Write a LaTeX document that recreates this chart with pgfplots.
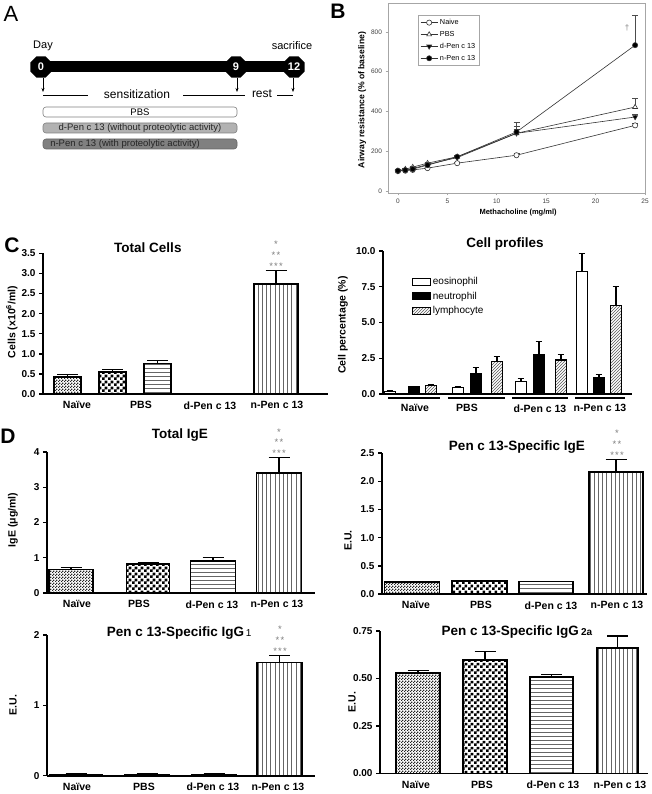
\documentclass[border=0pt]{standalone}
\usepackage{fontspec}
\setmainfont{Liberation Sans}
\usepackage{pgfplots}
\pgfplotsset{compat=1.18}
\usetikzlibrary{patterns,shapes.geometric,arrows.meta}

\pgfdeclarepatternformonly{finechecker}{\pgfpointorigin}{\pgfqpoint{2.6pt}{2.6pt}}{\pgfqpoint{2.6pt}{2.6pt}}{%
  \pgfpathrectangle{\pgfpointorigin}{\pgfqpoint{1.3pt}{1.3pt}}%
  \pgfpathrectangle{\pgfqpoint{1.3pt}{1.3pt}}{\pgfqpoint{1.3pt}{1.3pt}}%
  \pgfusepath{fill}}
\pgfdeclarepatternformonly{bigchecker}{\pgfpointorigin}{\pgfqpoint{6pt}{6pt}}{\pgfqpoint{6pt}{6pt}}{%
  \pgfpathrectangle{\pgfpointorigin}{\pgfqpoint{3pt}{3pt}}%
  \pgfpathrectangle{\pgfqpoint{3pt}{3pt}}{\pgfqpoint{3pt}{3pt}}%
  \pgfusepath{fill}}
\pgfdeclarepatternformonly{hlines}{\pgfqpoint{-1pt}{-1pt}}{\pgfqpoint{5pt}{5pt}}{\pgfqpoint{4pt}{4pt}}{%
  \pgfsetlinewidth{0.7pt}%
  \pgfpathmoveto{\pgfqpoint{-1pt}{2pt}}\pgfpathlineto{\pgfqpoint{5pt}{2pt}}%
  \pgfusepath{stroke}}
\pgfdeclarepatternformonly{vlines}{\pgfqpoint{-1pt}{-1pt}}{\pgfqpoint{5pt}{5pt}}{\pgfqpoint{4.2pt}{4pt}}{%
  \pgfsetlinewidth{0.7pt}%
  \pgfpathmoveto{\pgfqpoint{2pt}{-1pt}}\pgfpathlineto{\pgfqpoint{2pt}{5pt}}%
  \pgfusepath{stroke}}
\pgfdeclarepatternformonly{dlines}{\pgfqpoint{-1pt}{-1pt}}{\pgfqpoint{4pt}{4pt}}{\pgfqpoint{3pt}{3pt}}{%
  \pgfsetlinewidth{0.6pt}%
  \pgfpathmoveto{\pgfqpoint{0pt}{0pt}}\pgfpathlineto{\pgfqpoint{3.1pt}{3.1pt}}%
  \pgfusepath{stroke}}

\pgfplotsset{
  gp/.style={
    scale only axis, clip=false, anchor=south west,
    axis lines*=left, axis line style={line width=1.6pt, black},
    tick align=outside, major tick length=4pt,
    ytick style={line width=1.4pt, black},
    xtick style={draw=none},
    /pgf/number format/assume math mode=true,
    yticklabel style={font=\bfseries\fontsize{10}{12}\selectfont},
    xticklabel style={font=\bfseries\fontsize{10.5}{12}\selectfont},
    every axis title/.style={anchor=center, font=\bfseries\fontsize{13.5}{15}\selectfont},
    every axis y label/.style={rotate=90, anchor=center, font=\bfseries\fontsize{10.5}{12}\selectfont},
  },
  gpbar/.style={ybar, bar shift=0pt, draw=black, line width=1.6pt,
    error bars/y dir=plus, error bars/y explicit,
    error bars/error bar style={line width=1.4pt, black},
    error bars/error mark options={rotate=90, black, line width=1.4pt, mark size=10.5pt}},
}
\tikzset{stars/.style={anchor=south, align=center, text=gray, font=\fontsize{9.5}{10.7}\selectfont, inner sep=0pt, yshift=1pt}}
\newcommand{\threestars}{*\\*\kern1.2pt*\\*\kern1.2pt*\kern1.2pt*}

\begin{document}
\begin{tikzpicture}
\fill[white] (0pt,0pt) rectangle (651pt,-794pt);
\path[use as bounding box] (0pt,0pt) rectangle (651pt,-794pt);
\begin{scope}[x=1pt,y=-1pt]
  % ---- Panel A ----
  \node[font=\fontsize{22}{22}\selectfont] at (11,14) {A};
  \node[font=\fontsize{11}{12}\selectfont] at (43,46) {Day};
  \node[font=\fontsize{11}{12}\selectfont] at (292,46) {sacrifice};
  \draw[line width=11pt] (41,67) -- (294,67);
  \foreach \x/\t in {41/0,236/9,294/12}
    \node[regular polygon, regular polygon sides=8, minimum size=23pt, fill=black, text=white,
          font=\bfseries\fontsize{11}{12}\selectfont, inner sep=0pt] at (\x,67) {\t};
  \foreach \x in {43,237,293}
    \draw[-{Stealth[length=4pt,width=3pt]}, line width=0.7pt] (\x,78) -- (\x,92);
  \draw[line width=0.6pt] (43,95)--(88,95) (183,95)--(245,95) (277,95)--(293,95);
  \node[font=\fontsize{12}{13}\selectfont] at (137,94) {sensitization};
  \node[font=\fontsize{12}{13}\selectfont] at (262,94) {rest};
  \draw[rounded corners=3pt, draw=gray, fill=white, line width=0.6pt] (43,107) rectangle (237,117);
  \node[font=\fontsize{9.5}{10}\selectfont] at (140,112) {PBS};
  \draw[rounded corners=3pt, draw=gray, fill=gray!60, line width=0.6pt] (43,123) rectangle (237,133);
  \node[font=\fontsize{9.5}{10}\selectfont, text=black!85] at (140,128) {d-Pen c 13 (without proteolytic activity)};
  \draw[rounded corners=3pt, draw=gray!80!black, fill=gray, line width=0.6pt] (43,139) rectangle (237,149);
  \node[font=\fontsize{9.5}{10}\selectfont, text=black!85] at (125,144) {n-Pen c 13 (with proteolytic activity)};
  % ---- panel letters ----
  \node[font=\bfseries\fontsize{21}{21}\selectfont] at (338,11) {B};
  \node[font=\bfseries\fontsize{21}{21}\selectfont] at (12,245) {C};
  \node[font=\bfseries\fontsize{21}{21}\selectfont] at (8,436) {D};
  % ---- cell profile group lines ----
  \draw[line width=1.2pt] (388,398)--(440,398) (448,398)--(505,398) (512,398)--(568,398) (575,398)--(625,398);
\end{scope}

% ---- Panel B ----
\begin{axis}[scale only axis, anchor=south west, at={(388pt,-193pt)}, width=257pt, height=190pt,
  xmin=-1, xmax=25, ymin=-10, ymax=945,
  xtick={0,5,...,25}, ytick={0,200,...,800},
  axis line style={draw=gray!70, line width=0.7pt},
  tick align=outside, xtick pos=left, ytick pos=left, major tick length=2.5pt,
  tick style={gray!70, line width=0.5pt},
  /pgf/number format/assume math mode=true,
  ticklabel style={font=\fontsize{6.5}{7}\selectfont, text=black!75},
  xlabel={Methacholine (mg/ml)}, ylabel={Airway resistance (\% of baseline)},
  xlabel style={at={(0.506,-0.105)}, anchor=center, font=\bfseries\fontsize{7.5}{9}\selectfont},
  ylabel style={at={(-0.101,0.489)}, anchor=center, font=\bfseries\fontsize{8.6}{10}\selectfont},
  legend style={at={(0.117,0.937)}, anchor=north west, draw=gray!70, line width=0.5pt,
    font=\fontsize{7.3}{8.5}\selectfont, inner sep=2pt, row sep=1.2pt},
  legend cell align=left, clip=false]
\addplot[black!80, line width=0.6pt, mark=*, mark size=2.6pt, mark options={fill=white, line width=0.6pt},
  error bars/y dir=plus, error bars/y explicit,
  error bars/error bar style={black!70, line width=0.6pt},
  error bars/error mark options={rotate=90, black!70, line width=0.6pt, mark size=3pt}]
  coordinates {(0,100)+-(0,3) (0.75,102)+-(0,3) (1.5,106)+-(0,4) (3,115)+-(0,5) (6,140)+-(0,6) (12,180)+-(0,10) (24,330)+-(0,8)};
\addlegendentry{Naive}
\addplot[black!80, line width=0.6pt, mark=triangle*, mark size=2.8pt, mark options={fill=white, line width=0.6pt},
  error bars/y dir=plus, error bars/y explicit,
  error bars/error bar style={black!70, line width=0.6pt},
  error bars/error mark options={rotate=90, black!70, line width=0.6pt, mark size=3pt}]
  coordinates {(0,102)+-(0,3) (0.75,110)+-(0,4) (1.5,120)+-(0,6) (3,140)+-(0,6) (6,172)+-(0,8) (12,290)+-(0,35) (24,422)+-(0,45)};
\addlegendentry{PBS}
\addplot[black!80, line width=0.6pt, mark=triangle*, mark size=2.8pt, mark options={fill=black, rotate=180},
  error bars/y dir=plus, error bars/y explicit,
  error bars/error bar style={black!70, line width=0.6pt},
  error bars/error mark options={rotate=90, black!70, line width=0.6pt, mark size=3pt}]
  coordinates {(0,101)+-(0,3) (0.75,106)+-(0,3) (1.5,113)+-(0,4) (3,133)+-(0,5) (6,168)+-(0,8) (12,290)+-(0,20) (24,372)+-(0,15)};
\addlegendentry{d-Pen c 13}
\addplot[black!80, line width=0.6pt, mark=*, mark size=2.6pt, mark options={fill=black},
  error bars/y dir=plus, error bars/y explicit,
  error bars/error bar style={black!70, line width=0.6pt},
  error bars/error mark options={rotate=90, black!70, line width=0.6pt, mark size=3pt}]
  coordinates {(0,102)+-(0,3) (0.75,105)+-(0,3) (1.5,110)+-(0,4) (3,130)+-(0,5) (6,172)+-(0,8) (12,297)+-(0,48) (24,733)+-(0,152)};
\addlegendentry{n-Pen c 13}
\node[text=gray, font=\fontsize{8}{8}\selectfont] at (axis cs:23.2,820) {\textdagger};
\end{axis}

% ---- Panel C left: Total Cells ----
\begin{axis}[gp, at={(43pt,-394pt)}, width=285pt, height=140.7pt,
  xmin=43, xmax=328, ymin=0, ymax=3.5, ytick={0,0.5,1,1.5,2,2.5,3,3.5},
  yticklabel style={/pgf/number format/.cd, fixed, fixed zerofill, precision=1},
  xtick={77,141,210,277}, xticklabels={Naïve,PBS,d-Pen c 13,n-Pen c 13},
  title={Total Cells}, title style={at={(0.368,1.038)}},
  ylabel={Cells (x10\textsuperscript{6}/ml)}, ylabel style={at={(-0.109,0.512)}}]
\addplot[gpbar, bar width=27, pattern=finechecker, pattern color=black!85] coordinates {(67.5,0.43) +- (0,0.06)};
\addplot[gpbar, bar width=27, pattern=bigchecker, pattern color=black] coordinates {(112.5,0.54) +- (0,0.07)};
\addplot[gpbar, bar width=27, pattern=hlines, pattern color=black!60] coordinates {(157.5,0.76) +- (0,0.07)};
\addplot[gpbar, bar width=44, pattern=vlines, pattern color=black!60] coordinates {(276,2.74) +- (0,0.33)};
\node[stars] at (axis cs:276,3.07) {\threestars};
\end{axis}

% ---- Panel C right: Cell profiles ----
\begin{axis}[gp, at={(383pt,-394pt)}, width=249pt, height=143pt,
  xmin=383, xmax=632, ymin=0, ymax=10, ytick={0,2.5,5,7.5,10},
  yticklabel style={/pgf/number format/.cd, fixed, fixed zerofill, precision=1},
  xtick={415,467,540,600}, xticklabels={Naïve,PBS,d-Pen c 13,n-Pen c 13},
  xticklabel style={yshift=-3pt},
  title={Cell profiles}, title style={at={(0.49,1.049)}},
  ylabel={Cell percentage (\%)}, ylabel style={at={(-0.161,0.483)}},
  legend style={at={(0.116,0.832)}, anchor=north west, draw=none, fill=none,
    font=\fontsize{10}{12}\selectfont, row sep=2pt, inner sep=0pt},
  legend cell align=left]
\addplot[gpbar, line width=1.1pt, bar width=11, fill=white,
  error bars/error bar style={line width=1.2pt}, error bars/error mark options={rotate=90, line width=1.2pt, mark size=3.3pt},
  legend image code/.code={\draw[line width=0.8pt, fill=white] (0pt,-3.5pt) rectangle (18pt,3.5pt);}]
  coordinates {(390,0.2)+-(0,0.05) (458,0.47)+-(0,0.07) (521,0.88)+-(0,0.2) (582,8.55)+-(0,1.3)};
\addlegendentry{eosinophil}
\addplot[gpbar, line width=1.1pt, bar width=11, fill=black,
  error bars/error bar style={line width=1.2pt}, error bars/error mark options={rotate=90, line width=1.2pt, mark size=3.3pt},
  legend image code/.code={\draw[line width=0.8pt, fill=black] (0pt,-3.5pt) rectangle (18pt,3.5pt);}]
  coordinates {(414,0.5)+-(0,0.05) (476,1.45)+-(0,0.4) (539,2.78)+-(0,0.9) (599,1.14)+-(0,0.2)};
\addlegendentry{neutrophil}
\addplot[gpbar, line width=1.1pt, bar width=11, pattern=dlines, pattern color=black!65,
  error bars/error bar style={line width=1.2pt}, error bars/error mark options={rotate=90, line width=1.2pt, mark size=3.3pt},
  legend image code/.code={\draw[line width=0.8pt, pattern=dlines, pattern color=black!65] (0pt,-3.5pt) rectangle (18pt,3.5pt);}]
  coordinates {(431,0.58)+-(0,0.07) (497,2.3)+-(0,0.3) (561,2.38)+-(0,0.37) (616,6.2)+-(0,1.3)};
\addlegendentry{lymphocyte}
\end{axis}

% ---- Panel D: Total IgE ----
\begin{axis}[gp, at={(47pt,-593pt)}, width=268pt, height=141pt,
  xmin=47, xmax=315, ymin=0, ymax=4, ytick={0,1,2,3,4},
  xtick={77,139,212,277}, xticklabels={Naïve,PBS,d-Pen c 13,n-Pen c 13},
  title={Total IgE}, title style={at={(0.496,1.12)}},
  ylabel={IgE (μg/ml)}, ylabel style={at={(-0.127,0.518)}}]
\addplot[gpbar, bar width=44, pattern=finechecker, pattern color=black!85] coordinates {(71,0.67) +- (0,0.06)};
\addplot[gpbar, bar width=43, pattern=bigchecker, pattern color=black] coordinates {(148,0.82) +- (0,0.05)};
\addplot[gpbar, bar width=45, pattern=hlines, pattern color=black!60] coordinates {(213,0.91) +- (0,0.09)};
\addplot[gpbar, bar width=45, pattern=vlines, pattern color=black!60] coordinates {(279,3.41) +- (0,0.43)};
\node[stars] at (axis cs:279,3.84) {\threestars};
\end{axis}

% ---- Panel D: Pen c 13-Specific IgE ----
\begin{axis}[gp, at={(382pt,-594pt)}, width=265pt, height=141pt,
  xmin=382, xmax=647, ymin=0, ymax=2.5, ytick={0,0.5,1,1.5,2,2.5},
  yticklabel style={/pgf/number format/.cd, fixed, fixed zerofill, precision=1},
  xtick={416,481,551,617}, xticklabels={Naïve,PBS,d-Pen c 13,n-Pen c 13},
  title={Pen c 13-Specific IgE}, title style={at={(0.509,1.045)}},
  ylabel={E.U.}, ylabel style={at={(-0.128,0.378)}}]
\addplot[gpbar, bar width=55, pattern=finechecker, pattern color=black!85] coordinates {(412,0.21) +- (0,0.005)};
\addplot[gpbar, bar width=55, pattern=bigchecker, pattern color=black] coordinates {(479.5,0.23) +- (0,0.005)};
\addplot[gpbar, bar width=54, pattern=hlines, pattern color=black!60] coordinates {(546,0.22) +- (0,0.005)};
\addplot[gpbar, bar width=54, pattern=vlines, pattern color=black!60] coordinates {(616,2.16) +- (0,0.23)};
\node[stars] at (axis cs:617,2.39) {\threestars};
\end{axis}

% ---- Panel D: Pen c 13-Specific IgG1 ----
\begin{axis}[gp, at={(47pt,-775.7pt)}, width=268pt, height=140.7pt,
  xmin=47, xmax=315, ymin=0, ymax=2, ytick={0,1,2},
  xtick={77,144,213,278}, xticklabels={Naïve,PBS,d-Pen c 13,n-Pen c 13},
  title={Pen c 13-Specific IgG{\mdseries\fontsize{10}{10}\selectfont\,1}}, title style={at={(0.493,1.014)}},
  ylabel={E.U.}, ylabel style={at={(-0.127,0.502)}}]
\addplot[gpbar, bar width=52, pattern=finechecker, pattern color=black!85] coordinates {(76,0.02) +- (0,0.002)};
\addplot[gpbar, bar width=44, pattern=bigchecker, pattern color=black] coordinates {(147,0.02) +- (0,0.002)};
\addplot[gpbar, bar width=44, pattern=hlines, pattern color=black!60] coordinates {(214,0.02) +- (0,0.002)};
\addplot[gpbar, bar width=45, pattern=vlines, pattern color=black!60] coordinates {(279.5,1.61) +- (0,0.10)};
\node[stars] at (axis cs:280,1.71) {\threestars};
\end{axis}

% ---- Panel D: Pen c 13-Specific IgG2a ----
\begin{axis}[gp, at={(380pt,-773.3pt)}, width=268pt, height=142.3pt,
  xmin=380, xmax=648, ymin=0, ymax=0.75, ytick={0,0.25,0.5,0.75},
  yticklabel style={/pgf/number format/.cd, fixed, fixed zerofill, precision=2},
  xtick={416,482,553,620}, xticklabels={Naïve,PBS,d-Pen c 13,n-Pen c 13},
  title={Pen c 13-Specific IgG\,{\fontsize{10}{10}\selectfont 2a}}, title style={at={(0.511,0.993)}},
  ylabel={E.U.}, ylabel style={at={(-0.104,0.501)}}]
\addplot[gpbar, bar width=44, pattern=finechecker, pattern color=black!85] coordinates {(418,0.53) +- (0,0.013)};
\addplot[gpbar, bar width=44, pattern=bigchecker, pattern color=black] coordinates {(485,0.598) +- (0,0.043)};
\addplot[gpbar, bar width=43, pattern=hlines, pattern color=black!60] coordinates {(551.5,0.509) +- (0,0.013)};
\addplot[gpbar, bar width=41, pattern=vlines, pattern color=black!60] coordinates {(617.5,0.661) +- (0,0.063)};
\end{axis}
\end{tikzpicture}
\end{document}
